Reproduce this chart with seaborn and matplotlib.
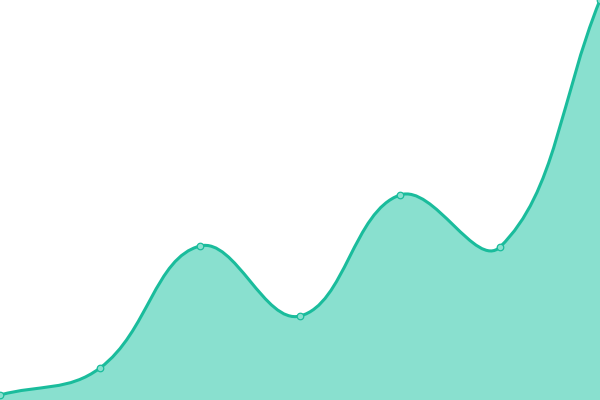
import numpy as np
import pandas as pd
import seaborn as sns
import matplotlib
matplotlib.use('Agg')
import matplotlib.pyplot as plt
from matplotlib.path import Path
from matplotlib.patches import PathPatch

# values (x step 100, y axis 0..400)
xs = [0, 100, 200, 300, 400, 500, 600]
vals = [5, 32, 154, 84, 205, 153, 400]

line_col = '#1abc9c'
fill_col = '#89e0cf'
tension = 0.4

sns.set_theme(style='white')
df = pd.DataFrame({'x': xs, 'y': vals})

fig = plt.figure(figsize=(6, 4), dpi=100)
ax = fig.add_axes([0, 0, 1, 1])

# cardinal-spline control points, the way the original renderer smooths the line
pts = np.array(list(zip(xs, vals)), dtype=float)
n = len(pts)
ctrl_prev = np.zeros_like(pts)
ctrl_next = np.zeros_like(pts)
for i in range(n):
    prev = pts[max(i - 1, 0)]
    cur = pts[i]
    nxt = pts[min(i + 1, n - 1)]
    d01 = np.hypot(*(cur - prev))
    d12 = np.hypot(*(nxt - cur))
    tot = d01 + d12
    s01 = d01 / tot if tot else 0
    s12 = d12 / tot if tot else 0
    ctrl_prev[i] = cur - tension * s01 * (nxt - prev)
    ctrl_next[i] = cur + tension * s12 * (nxt - prev)

verts = [tuple(pts[0])]
codes = [Path.MOVETO]
for i in range(n - 1):
    verts += [tuple(ctrl_next[i]), tuple(ctrl_prev[i + 1]), tuple(pts[i + 1])]
    codes += [Path.CURVE4] * 3

fill_verts = verts + [(xs[-1], 0), (xs[0], 0), (xs[0], 0)]
fill_codes = codes + [Path.LINETO, Path.LINETO, Path.CLOSEPOLY]
ax.add_patch(PathPatch(Path(fill_verts, fill_codes), facecolor=fill_col,
                       edgecolor='none', zorder=1))
ax.add_patch(PathPatch(Path(verts, codes), facecolor='none',
                       edgecolor=line_col, lw=2.2, zorder=2,
                       capstyle='round', joinstyle='round'))

sns.scatterplot(data=df, x='x', y='y', ax=ax, s=22, color=fill_col,
                edgecolor=line_col, linewidth=0.9, zorder=3)

ax.set_xlim(0, 600)
ax.set_ylim(0, 400)
ax.axis('off')

fig.savefig('out.png', dpi=100)
